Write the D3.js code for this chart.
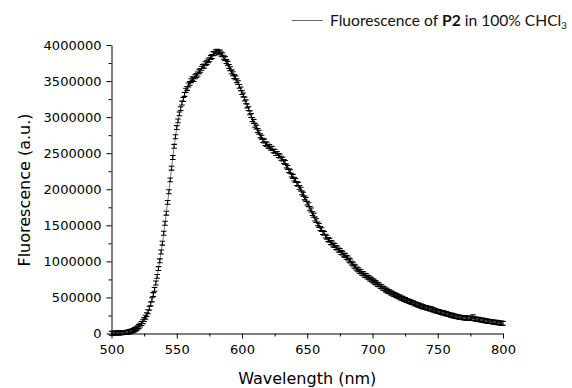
<!DOCTYPE html>
<html>
<head>
<meta charset="utf-8">
<title>Fluorescence of P2</title>
<script src="https://cdnjs.cloudflare.com/ajax/libs/d3/7.8.5/d3.min.js"></script>
<style>
    html, body {
        margin: 0;
        padding: 0;
        background: #fff;
    }
    #chart {
        width: 572px;
        height: 388px;
    }
</style>
</head>
<body>
<div id="chart"></div>
<script>
    // wavelength of first sample (nm), one sample per nm
    const startNm = 500;
    // fluorescence intensity, in thousands (a.u.)
    const fluorK = [
        4, 5, 5, 6, 7, 7, 8, 9, 10, 12,
        13, 15, 18, 21, 25, 30, 37, 45, 55, 67,
        80, 97, 116, 138, 164, 193, 226, 262, 302, 350,
        410, 468, 540, 612, 700, 792, 900, 1008, 1130, 1252,
        1390, 1528, 1668, 1818, 1965, 2130, 2292, 2440, 2595, 2728,
        2855, 2948, 3045, 3118, 3195, 3245, 3315, 3372, 3398, 3446,
        3468, 3505, 3532, 3522, 3560, 3578, 3598, 3630, 3648, 3678,
        3702, 3708, 3742, 3755, 3780, 3795, 3826, 3840, 3878, 3885,
        3908, 3915, 3898, 3902, 3875, 3866, 3830, 3812, 3770, 3746,
        3702, 3672, 3628, 3602, 3562, 3545, 3505, 3478, 3426, 3392,
        3340, 3308, 3250, 3212, 3155, 3118, 3060, 3022, 2965, 2940,
        2888, 2862, 2815, 2790, 2742, 2722, 2680, 2668, 2632, 2625,
        2598, 2592, 2570, 2566, 2532, 2525, 2496, 2494, 2468, 2462,
        2430, 2418, 2385, 2372, 2322, 2302, 2258, 2242, 2196, 2178,
        2140, 2122, 2080, 2068, 2026, 2002, 1950, 1932, 1880, 1858,
        1808, 1786, 1735, 1712, 1662, 1640, 1588, 1565, 1520, 1498,
        1455, 1440, 1400, 1388, 1350, 1334, 1302, 1292, 1262, 1256,
        1228, 1220, 1192, 1186, 1158, 1150, 1122, 1115, 1090, 1082,
        1056, 1048, 1018, 1006, 976, 962, 934, 922, 896, 884,
        862, 856, 834, 828, 808, 803, 782, 778, 756, 752,
        732, 726, 706, 700, 680, 674, 653, 648, 628, 622,
        604, 600, 582, 578, 562, 560, 544, 540, 526, 521,
        508, 505, 490, 488, 474, 472, 458, 456, 443, 440,
        430, 428, 413, 411, 399, 398, 386, 385, 372, 370,
        362, 360, 350, 349, 340, 342, 330, 327, 316, 314,
        306, 304, 294, 293, 284, 283, 274, 273, 264, 262,
        254, 252, 243, 242, 234, 232, 228, 226, 220, 221,
        216, 218, 212, 216, 210, 214, 208, 232, 204, 200,
        196, 198, 190, 189, 184, 183, 178, 176, 171, 170,
        165, 166, 158, 160, 152, 157, 147, 150, 142, 146,
        140
    ];
    // half height of each error bar (a.u.)
    const errHalf = 27000;

    const xTicks = [500, 550, 600, 650, 700, 750, 800];
    const xMinorTicks = [525, 575, 625, 675, 725, 775];
    const yTicks = [0, 500000, 1000000, 1500000, 2000000, 2500000, 3000000, 3500000, 4000000];
    const yMinorTicks = [250000, 750000, 1250000, 1750000, 2250000, 2750000, 3250000, 3750000];

    const xTitle = "Wavelength (nm)";
    const yTitle = "Fluorescence (a.u.)";

    const data = fluorK.map((v, i) => ({ nm: startNm + i, value: v * 1000 }));

    const width = 572, height = 388;
    const svg = d3.select("#chart")
        .append("svg")
        .attr("width", width)
        .attr("height", height);

    const xScale = d3.scaleLinear()
        .domain([500, 800])
        .range([111.5, 503]);

    const yScale = d3.scaleLinear()
        .domain([0, 4000000])
        .range([333.5, 45]);

    const axisFont = "'DejaVu Sans', sans-serif";

    // connecting line
    const line = d3.line()
        .x(d => xScale(d.nm))
        .y(d => yScale(d.value));

    svg.append("path")
        .datum(data)
        .attr("d", line)
        .attr("fill", "none")
        .attr("stroke", "#666")
        .attr("stroke-width", 0.9);

    // error bars with caps
    const capW = 2.8;
    svg.append("g")
        .selectAll("path")
        .data(data)
        .enter()
        .append("path")
        .attr("d", d => {
            const x = xScale(d.nm);
            const y0 = yScale(d.value - errHalf);
            const y1 = yScale(d.value + errHalf);
            return `M${x},${y0}V${y1}M${x - capW},${y0}H${x + capW}M${x - capW},${y1}H${x + capW}`;
        })
        .attr("fill", "none")
        .attr("stroke", "#000")
        .attr("stroke-width", 1.05);

    // axes
    svg.append("g")
        .attr("transform", "translate(0," + yScale(0) + ")")
        .call(d3.axisBottom(xScale).tickValues(xTicks).tickSize(5).tickSizeOuter(0).tickPadding(6));
    svg.append("g")
        .attr("transform", "translate(0," + yScale(0) + ")")
        .call(d3.axisBottom(xScale).tickValues(xMinorTicks).tickSize(3).tickFormat(""))
        .select(".domain").remove();

    svg.append("g")
        .attr("transform", "translate(" + xScale(500) + ",0)")
        .call(d3.axisLeft(yScale).tickValues(yTicks).tickSize(5).tickSizeOuter(0).tickPadding(5).tickFormat(d3.format("d")));
    svg.append("g")
        .attr("transform", "translate(" + xScale(500) + ",0)")
        .call(d3.axisLeft(yScale).tickValues(yMinorTicks).tickSize(3).tickFormat(""))
        .select(".domain").remove();

    svg.selectAll(".tick text")
        .attr("font-family", axisFont)
        .attr("font-size", 13)
        .attr("fill", "#000");

    // axis titles
    svg.append("text")
        .attr("x", (xScale(500) + xScale(800)) / 2)
        .attr("y", 384)
        .attr("text-anchor", "middle")
        .attr("font-family", axisFont)
        .attr("font-size", 16)
        .attr("fill", "#000")
        .text(xTitle);

    svg.append("text")
        .attr("transform", "translate(30," + 190 + ") rotate(-90)")
        .attr("text-anchor", "middle")
        .attr("font-family", axisFont)
        .attr("font-size", 16)
        .attr("fill", "#000")
        .text(yTitle);

    // legend
    svg.append("line")
        .attr("x1", 292)
        .attr("x2", 323)
        .attr("y1", 20.5)
        .attr("y2", 20.5)
        .attr("stroke", "#666")
        .attr("stroke-width", 1);

    const legendText = svg.append("text")
        .attr("x", 330)
        .attr("y", 26)
        .attr("font-family", "Lato, 'Open Sans', sans-serif")
        .attr("font-size", 15)
        .attr("fill", "#111");
    legendText.append("tspan").text("Fluorescence of ");
    legendText.append("tspan").attr("font-weight", "bold").text("P2");
    legendText.append("tspan").text(" in 100% CHCl");
    legendText.append("tspan").attr("font-size", "0.62em").attr("dy", 3).text("3");

    // fit the legend width to the reference
    const lw = legendText.node().getBBox().width;
    legendText.attr("font-size", 15 * 237 / lw);
</script>
</body>
</html>
